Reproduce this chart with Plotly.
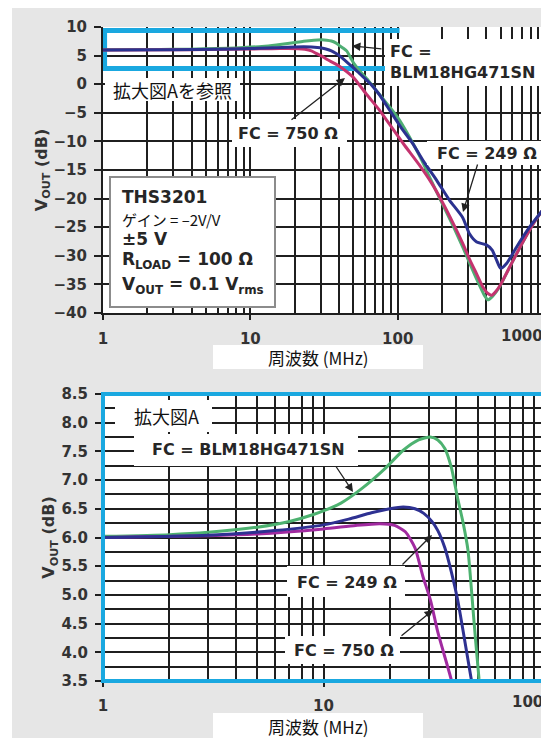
import plotly.graph_objects as go

# page offset: the browser body adds an 8 px margin, so the figure is sized to fill the rest
OFF = 8
W, H = 549 - OFF, 738 - OFF

# ---------------- data (frequency in MHz, output in dB) ----------------
f_blm = [1, 2, 3, 5, 7, 9, 12, 15, 19, 23, 27, 30.5, 33, 35.5, 38, 40.5, 43, 45.2, 48, 50.7,
         55, 62, 70, 84, 100, 120, 145, 170, 200, 240, 280, 340, 390, 410, 440, 490, 575, 700, 860, 1000]
db_blm = [6.02, 6.05, 6.09, 6.18, 6.28, 6.4, 6.6, 6.86, 7.2, 7.52, 7.7, 7.75, 7.7, 7.55, 7.22, 6.7, 6.25, 5.78, 4.6, 3.55,
          2.4, 0.9, -0.8, -3.3, -5.8, -9.2, -13.2, -17.0, -20.8, -25.0, -28.8, -33.8, -37.0, -37.7, -37.1, -35.5, -32.0, -27.8, -23.8, -21.5]

f_249 = [1, 3, 6, 10, 13, 16.5, 20, 23, 26, 28.5, 31, 33, 35.5, 38, 40.6, 43.5, 46.6, 50, 56,
         64.6, 75, 88, 105, 126, 150, 184, 225, 276, 308, 344, 400, 438, 470, 500, 550, 640, 785, 1000]
db_249 = [6.0, 6.04, 6.12, 6.22, 6.32, 6.43, 6.5, 6.53, 6.5, 6.42, 6.28, 6.12, 5.82, 5.4, 4.91, 4.25, 3.57, 2.9, 1.7,
          0.2, -1.8, -4.5, -7.5, -10.3, -13.5, -16.8, -20.3, -23.3, -26.2, -27.6, -28.1, -29.0, -30.8, -32.2, -31.3, -28.5, -25.0, -21.5]

f_750 = [1, 3, 5, 10, 14, 18, 21, 23.5, 26, 28.2, 30.6, 33, 37.8, 42, 50, 61.6, 75, 88, 110,
         141, 170, 200, 240, 276, 310, 344, 380, 410, 435, 465, 500, 575, 700, 860, 1000]
db_750 = [6.0, 6.03, 6.06, 6.15, 6.21, 6.24, 6.21, 6.1, 5.82, 5.33, 4.9, 4.35, 3.55, 2.8, 1.2, -1.8, -4.5, -7.0, -10.5,
          -14.2, -17.3, -20.5, -24.5, -27.8, -30.8, -33.2, -35.5, -36.6, -36.9, -36.2, -35.0, -32.0, -27.8, -23.8, -21.5]

x_major_top = [1, 10, 100, 1000]
x_major_top_text = ["1", "10", "100", ""]
x_minor_top = [2, 3, 4, 5, 6, 7, 8, 9, 20, 30, 40, 50, 60, 70, 80, 90,
               200, 300, 400, 500, 600, 700, 800, 900]
x_major_bot = [1, 10, 100]
x_major_bot_text = ["1", "10", ""]
x_minor_bot = [2, 3, 4, 5, 6, 7, 8, 9, 20, 30, 40, 50, 60, 70, 80, 90]

# drawing order: BLM (green), 750 Ω (magenta), 249 Ω (blue) on top
series_names = ["FC = BLM18HG471SN", "FC = 750 Ω", "FC = 249 Ω"]
top_colors = ["#4fae74", "#c4336f", "#2b3290"]
bot_colors = ["#4db270", "#a12aa0", "#2e3192"]

# ---------------- helpers (window pixel -> paper fraction) ----------------
def px(x):
    return (x - OFF) / W

def py(y):
    return 1 - (y - OFF) / H

BOLD = "DejaVu Sans"
CJK = "Noto Sans CJK JP"
TXT = "#262626"
GRID = "#1f1f1f"
CYAN = "#1aa8e0"

fig = go.Figure()

series = [(f_blm, db_blm), (f_750, db_750), (f_249, db_249)]
for (f, d), name, c in zip(series, series_names, top_colors):
    fig.add_trace(go.Scatter(x=f, y=d, mode="lines", name=name, xaxis="x", yaxis="y",
                             line=dict(color=c, width=3, shape="spline", smoothing=0.6),
                             showlegend=False, hoverinfo="skip"))
for (f, d), name, c in zip(series, series_names, bot_colors):
    fig.add_trace(go.Scatter(x=f, y=d, mode="lines", name=name, xaxis="x2", yaxis="y2",
                             line=dict(color=c, width=3, shape="spline", smoothing=0.6),
                             showlegend=False, hoverinfo="skip"))

tickfont = dict(family=BOLD, size=15, color="#333333", weight="bold")
titlefont = dict(family=BOLD, size=16, color="#333333", weight="bold")

common_x = dict(type="log", showgrid=True, gridcolor=GRID, gridwidth=1.6, zeroline=False,
                ticks="outside", ticklen=5, tickcolor=GRID, tickwidth=1.5, tickfont=tickfont,
                tickmode="array", ticklabelstandoff=6, automargin=False)
common_y = dict(showgrid=True, gridcolor=GRID, gridwidth=1.6, zeroline=False,
                ticks="outside", ticklen=7, tickcolor=GRID, tickwidth=1.5, tickfont=tickfont,
                ticklabelstandoff=4, automargin=False)

fig.update_layout(
    width=W, height=H, autosize=False,
    margin=dict(l=0, r=0, t=0, b=0, pad=0),
    paper_bgcolor="white", plot_bgcolor="white",
    xaxis=dict(**common_x, domain=[px(103), px(545)], range=[0, 3], anchor="y",
               tickvals=x_major_top, ticktext=x_major_top_text,
               minor=dict(tickvals=x_minor_top, showgrid=True, gridcolor=GRID, gridwidth=1.6, ticks=""),
               showline=True, linecolor=GRID, linewidth=2),
    yaxis=dict(**common_y, domain=[py(313), py(27)], range=[-40, 10], anchor="x",
               tickmode="linear", tick0=-40, dtick=5,
               showline=True, linecolor=GRID, linewidth=2,
               title=dict(text="V<sub>OUT</sub> (dB)", font=titlefont, standoff=2)),
    xaxis2=dict(**common_x, domain=[px(103), px(544)], range=[0, 2], anchor="y2",
                tickvals=x_major_bot, ticktext=x_major_bot_text,
                minor=dict(tickvals=x_minor_bot, showgrid=True, gridcolor=GRID, gridwidth=1.6, ticks=""),
                showline=False),
    yaxis2=dict(**common_y, domain=[py(681), py(394)], range=[3.5, 8.5], anchor="x2",
                tickmode="linear", tick0=3.5, dtick=0.5, tickformat=".1f",
                minor=dict(dtick=0.25, tick0=3.5, showgrid=True, gridcolor=GRID, gridwidth=1.6, ticks=""),
                showline=False,
                title=dict(text="V<sub>OUT</sub> (dB)", font=titlefont, standoff=2)),
)

shapes = []
# grey page panel and white plot areas
shapes.append(dict(type="rect", xref="paper", yref="paper", x0=px(12), x1=1, y0=0, y1=1,
                   fillcolor="#e6e6e6", line=dict(width=0), layer="below"))
shapes.append(dict(type="rect", xref="paper", yref="paper", x0=px(103), x1=px(545), y0=py(313), y1=py(27),
                   fillcolor="white", line=dict(width=0), layer="below"))
shapes.append(dict(type="rect", xref="paper", yref="paper", x0=px(103), x1=px(544), y0=py(681), y1=py(394),
                   fillcolor="white", line=dict(width=0), layer="below"))

# cyan zoom-region marker on the top chart (top, bottom, left edges)
for (xa, xb, ya, yb) in [(1.0, 103, 9.39, 9.39), (1.0, 103, 2.74, 2.74), (1.025, 1.025, 2.74, 9.39)]:
    shapes.append(dict(type="line", xref="x", yref="y", x0=xa, x1=xb, y0=ya, y1=yb,
                       line=dict(color=CYAN, width=5), layer="between"))

# white label boxes (pixel rectangles)
boxes = [
    (105, 240, 78, 101),    # 拡大図Aを参照
    (385, 546, 39, 86),     # FC = BLM (top)
    (232, 347, 119, 147),   # FC = 750 (top)
    (427, 546, 141, 165),   # FC = 249 (top)
    (213, 423, 345, 369),   # x title top
    (115, 212, 400, 432),   # 拡大図A
    (134, 358, 434, 466),   # FC = BLM (bottom)
    (287, 405, 566, 597),   # FC = 249 (bottom)
    (285, 400, 636, 664),   # FC = 750 (bottom)
    (213, 423, 713, 738),   # x title bottom
]
for (x0, x1, y0, y1) in boxes:
    shapes.append(dict(type="rect", xref="paper", yref="paper", x0=px(x0), x1=px(x1), y0=py(y1), y1=py(y0),
                       fillcolor="white", line=dict(width=0), layer="above"))
# info box
shapes.append(dict(type="rect", xref="paper", yref="paper", x0=px(110), x1=px(275), y0=py(307), y1=py(177),
                   fillcolor="white", line=dict(color="#8c8c8c", width=2), layer="above"))
# cyan border of the zoomed chart
shapes.append(dict(type="rect", xref="paper", yref="paper", x0=px(103), x1=px(545), y0=py(681), y1=py(394),
                   fillcolor="rgba(0,0,0,0)", line=dict(color=CYAN, width=4), layer="above"))
fig.update_layout(shapes=shapes)

ann = []

def text(x, y, s, font, xanchor="center", align="center"):
    ann.append(dict(xref="paper", yref="paper", x=px(x), y=py(y), text=s, showarrow=False,
                    xanchor=xanchor, yanchor="middle", align=align, font=font))

def arrow(x_tail, y_tail, x_head, y_head):
    ann.append(dict(xref="paper", yref="paper", x=px(x_head), y=py(y_head), text="",
                    showarrow=True, ax=x_tail - x_head, ay=y_tail - y_head, axref="pixel", ayref="pixel",
                    arrowhead=2, arrowsize=1.3, arrowwidth=1.3, arrowcolor="#222222"))

lab = dict(family=BOLD, size=16, color=TXT, weight="bold")
lab17 = dict(family=BOLD, size=17, color=TXT, weight="bold")
cjk = dict(family=CJK, size=18, color="#111111")
cjk_s = dict(family=CJK, size=15, color="#111111")
cjk_t = dict(family=CJK, size=17, color="#111111")

# top chart
text(172, 90, "拡大図Aを参照", cjk)
text(388, 62, "FC =<br>BLM18HG471SN", lab, xanchor="left", align="left")
text(288, 133, "FC = 750 Ω", lab)
text(487, 153, "FC = 249 Ω", lab)
text(318, 357, "周波数 (MHz)", cjk_t)
text(545, 336, "1000", tickfont, xanchor="right")
text(120, 197, "THS3201", lab17, xanchor="left")
text(120, 220, "ゲイン = –2V/V", cjk_s, xanchor="left")
text(120, 239, "±5 V", lab17, xanchor="left")
text(120, 261, "R<sub>LOAD</sub> = 100 Ω", lab17, xanchor="left")
text(120, 285, "V<sub>OUT</sub> = 0.1 V<sub>rms</sub>", lab17, xanchor="left")
arrow(383, 49, 352, 46)
arrow(290, 121, 345, 78)
arrow(478, 163, 463, 212)

# bottom chart
text(166, 416, "拡大図A", cjk)
text(248, 450, "FC = BLM18HG471SN", lab)
text(347, 582, "FC = 249 Ω", lab)
text(344, 650, "FC = 750 Ω", lab)
text(318, 726, "周波数 (MHz)", cjk_t)
text(545, 702, "100", tickfont, xanchor="right")
arrow(335, 465, 353, 492)
arrow(401, 566, 432, 535)
arrow(400, 637, 433, 610)

fig.update_layout(annotations=ann)

fig.write_html("out.html")
